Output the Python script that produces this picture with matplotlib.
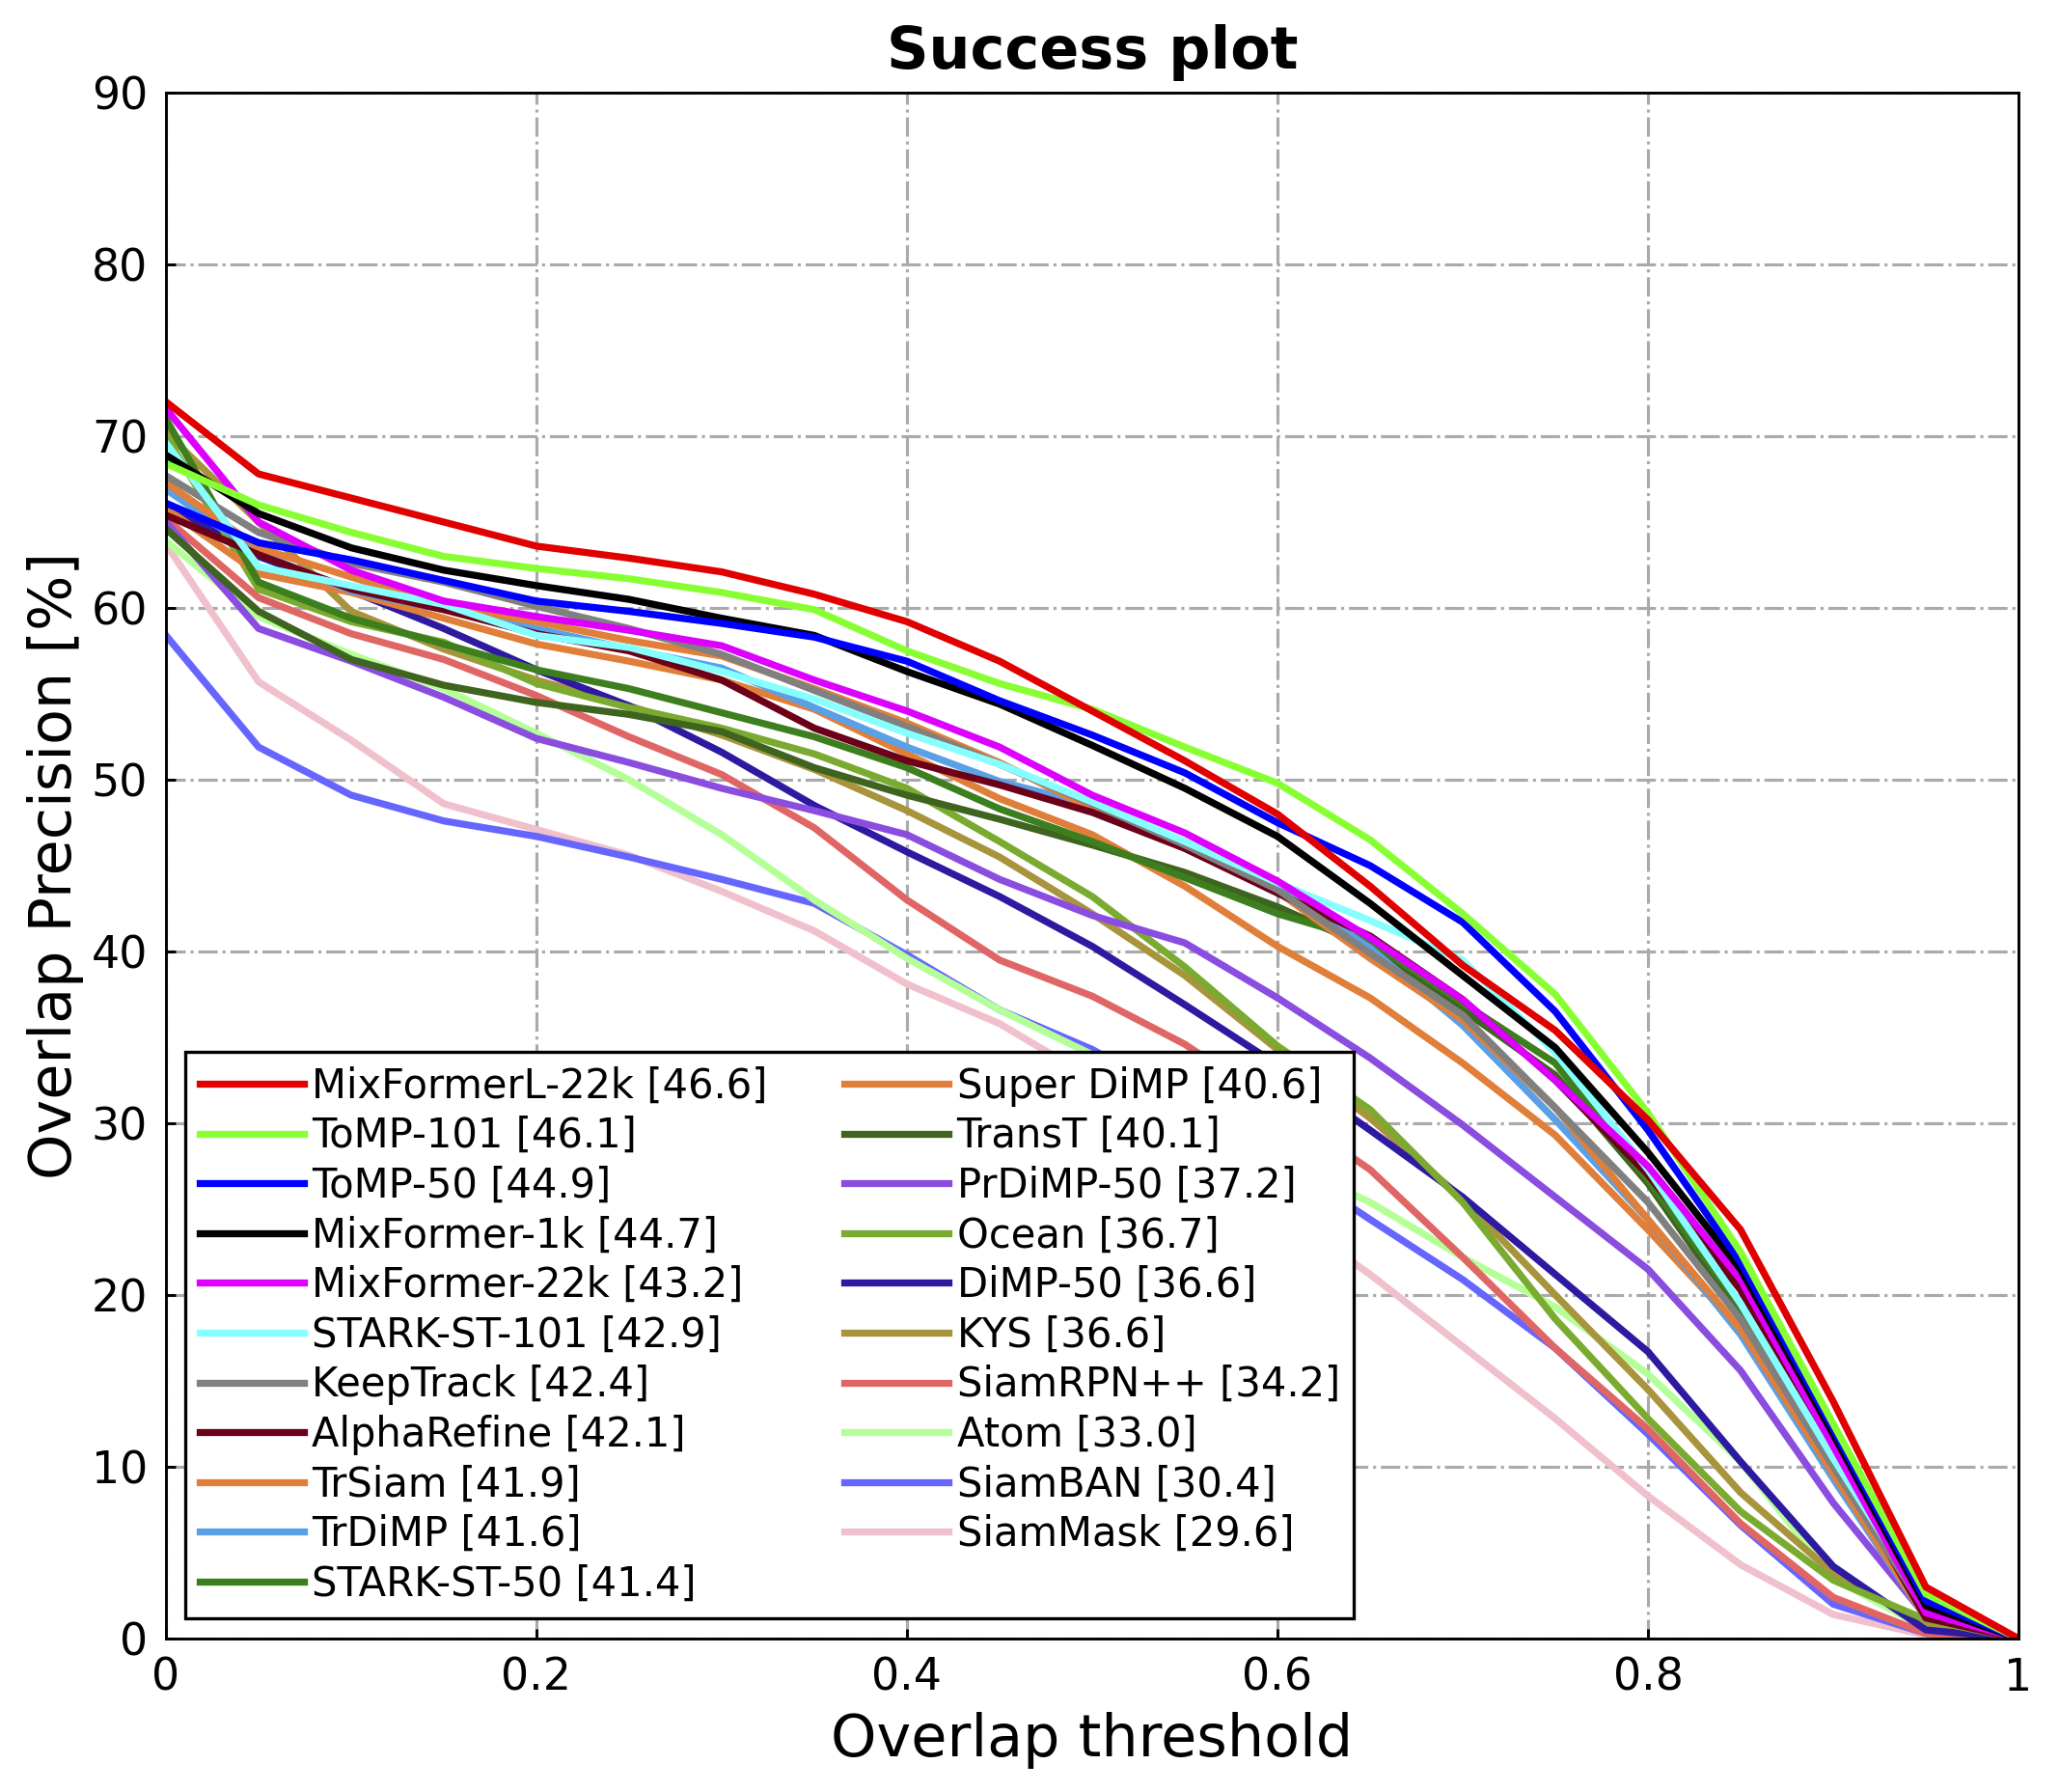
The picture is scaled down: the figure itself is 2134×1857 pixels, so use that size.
import numpy as np
import matplotlib
matplotlib.use("Agg")
import matplotlib.pyplot as plt

thresholds = [0.0, 0.05, 0.1, 0.15, 0.2, 0.25, 0.3, 0.35, 0.4, 0.45, 0.5,
              0.55, 0.6, 0.65, 0.7, 0.75, 0.8, 0.85, 0.9, 0.95, 1.0]

trackers = ["MixFormerL-22k", "ToMP-101", "ToMP-50", "MixFormer-1k", "MixFormer-22k",
            "STARK-ST-101", "KeepTrack", "AlphaRefine", "TrSiam", "TrDiMP",
            "STARK-ST-50", "Super DiMP", "TransT", "PrDiMP-50", "Ocean",
            "DiMP-50", "KYS", "SiamRPN++", "Atom", "SiamBAN", "SiamMask"]

auc = [46.6, 46.1, 44.9, 44.7, 43.2, 42.9, 42.4, 42.1, 41.9, 41.6, 41.4,
       40.6, 40.1, 37.2, 36.7, 36.6, 36.6, 34.2, 33.0, 30.4, 29.6]

colors = ["#e00000", "#88ff33", "#0000ff", "#000000", "#dd00ff",
          "#88ffff", "#808080", "#6b0018", "#e07f3a", "#5aa0e6",
          "#3d7f1e", "#e07f3a", "#3e6420", "#8a4de0", "#7aab30",
          "#2d1aa0", "#a8943c", "#e06666", "#b5ff99", "#6666ff", "#f0c0cc"]

mixformerl_22k = [72.0, 67.8, 66.4, 65.0, 63.6, 62.9, 62.1, 60.8, 59.2, 56.9, 54.0, 51.1, 48.0, 43.8, 39.2, 35.4, 30.2, 23.8, 13.8, 3.0, 0.0]
tomp_101 = [68.4, 66.0, 64.4, 63.0, 62.3, 61.7, 60.9, 59.9, 57.5, 55.6, 54.1, 51.9, 49.8, 46.5, 42.2, 37.5, 30.6, 22.5, 12.5, 2.6, 0.0]
tomp_50 = [66.1, 63.8, 62.8, 61.6, 60.4, 59.8, 59.1, 58.3, 56.9, 54.6, 52.6, 50.4, 47.5, 45.0, 41.7, 36.5, 29.6, 21.9, 12.2, 2.2, 0.0]
mixformer_1k = [68.9, 65.5, 63.5, 62.2, 61.3, 60.5, 59.4, 58.4, 56.3, 54.4, 52.0, 49.5, 46.7, 42.8, 38.6, 34.4, 28.3, 21.5, 11.9, 1.9, 0.0]
mixformer_22k = [71.6, 65.0, 62.2, 60.4, 59.5, 58.7, 57.8, 55.8, 54.0, 51.9, 49.1, 46.9, 44.1, 40.8, 37.2, 32.5, 27.5, 20.9, 11.2, 1.5, 0.0]
stark_st_101 = [69.6, 62.4, 61.3, 60.2, 58.4, 57.7, 56.3, 54.7, 52.7, 50.9, 48.7, 46.4, 44.0, 41.8, 39.5, 34.1, 27.3, 19.5, 10.5, 2.0, 0.0]
keeptrack = [67.7, 64.4, 62.6, 61.5, 60.1, 58.8, 57.3, 55.2, 53.1, 50.9, 48.6, 46.2, 43.6, 39.9, 36.3, 30.9, 25.4, 18.6, 10.0, 1.6, 0.0]
alpharefine = [65.4, 63.1, 61.1, 59.9, 58.5, 57.5, 55.8, 53.0, 51.1, 49.7, 48.1, 46.0, 43.4, 40.9, 37.2, 32.5, 27.0, 20.3, 10.6, 1.2, 0.0]
trsiam = [67.3, 63.5, 61.8, 60.1, 59.2, 58.1, 57.2, 55.3, 53.3, 51.0, 48.3, 46.0, 43.5, 39.6, 36.0, 30.9, 24.4, 18.0, 9.6, 1.2, 0.0]
trdimp = [66.9, 63.2, 61.0, 59.9, 58.8, 57.6, 56.5, 54.2, 51.9, 49.9, 48.5, 46.2, 43.8, 40.2, 35.7, 30.2, 24.4, 17.7, 9.3, 1.2, 0.0]
stark_st_50 = [71.0, 61.5, 59.4, 57.9, 56.4, 55.3, 53.9, 52.5, 50.7, 48.3, 46.4, 44.3, 42.2, 40.6, 37.0, 33.5, 26.7, 19.3, 10.3, 1.3, 0.0]
super_dimp = [65.8, 62.0, 60.9, 59.4, 57.9, 56.9, 55.8, 54.1, 51.5, 48.9, 46.8, 43.8, 40.3, 37.3, 33.5, 29.3, 23.8, 18.0, 9.6, 1.2, 0.0]
transt = [64.6, 59.8, 57.0, 55.5, 54.5, 53.8, 52.8, 50.7, 49.1, 47.7, 46.2, 44.6, 42.6, 40.2, 36.6, 32.8, 26.5, 18.8, 9.8, 1.2, 0.0]
prdimp_50 = [65.0, 58.8, 56.9, 54.8, 52.4, 51.0, 49.5, 48.2, 46.8, 44.2, 42.1, 40.5, 37.3, 33.8, 29.9, 25.7, 21.5, 15.6, 7.9, 1.3, 0.0]
ocean = [70.0, 61.1, 59.2, 58.0, 55.6, 54.2, 53.0, 51.5, 49.5, 46.4, 43.2, 39.1, 34.5, 30.8, 25.4, 18.6, 12.8, 7.4, 3.4, 1.1, 0.0]
dimp_50 = [66.0, 63.0, 61.0, 58.8, 56.4, 54.3, 51.6, 48.5, 45.8, 43.2, 40.3, 36.9, 33.4, 29.6, 25.7, 21.2, 16.7, 10.3, 4.2, 0.5, 0.0]
kys = [70.2, 65.0, 59.8, 57.6, 55.8, 54.3, 52.6, 50.6, 48.2, 45.5, 42.2, 38.6, 34.3, 30.3, 25.6, 20.0, 14.5, 8.5, 3.8, 0.8, 0.0]
siamrpnpp = [65.2, 60.6, 58.5, 57.0, 54.9, 52.5, 50.3, 47.2, 43.0, 39.5, 37.4, 34.6, 31.0, 27.3, 22.2, 16.9, 12.2, 6.7, 2.4, 0.3, 0.0]
atom = [63.9, 59.5, 57.3, 55.3, 52.7, 50.0, 46.8, 43.0, 39.6, 36.6, 34.0, 31.0, 28.0, 25.4, 22.2, 19.3, 15.4, 10.3, 3.5, 0.6, 0.0]
siamban = [58.4, 51.9, 49.1, 47.6, 46.7, 45.5, 44.2, 42.8, 39.8, 36.6, 34.3, 31.3, 28.0, 24.4, 20.9, 16.9, 11.9, 6.6, 2.0, 0.3, 0.0]
siammask = [63.7, 55.7, 52.3, 48.6, 47.1, 45.6, 43.5, 41.2, 38.1, 35.8, 32.6, 29.0, 25.0, 21.2, 17.0, 12.8, 8.3, 4.3, 1.4, 0.2, 0.0]

series = [mixformerl_22k, tomp_101, tomp_50, mixformer_1k, mixformer_22k,
          stark_st_101, keeptrack, alpharefine, trsiam, trdimp,
          stark_st_50, super_dimp, transt, prdimp_50, ocean,
          dimp_50, kys, siamrpnpp, atom, siamban, siammask]

xticks = [0, 0.2, 0.4, 0.6, 0.8, 1.0]
xticklabels = ["0", "0.2", "0.4", "0.6", "0.8", "1"]
yticks = [0, 10, 20, 30, 40, 50, 60, 70, 80, 90]

plt.rcParams['font.family'] = ['DejaVu Sans']

fig = plt.figure(figsize=(2134 / 300, 1857 / 300), dpi=300)
ax = fig.add_axes([172 / 2134, 1 - 1698 / 1857, 1920 / 2134, 1602 / 1857])

n = len(trackers)
handles = [None] * n
for i in range(n - 1, -1, -1):
    (ln,) = ax.plot(thresholds, series[i], color=colors[i], linewidth=1.75,
                    label=f"{trackers[i]} [{auc[i]:.1f}]", zorder=2 + (n - i) * 0.01)
    handles[i] = ln

ax.set_xlim(0, 1)
ax.set_ylim(0, 90)
ax.set_xticks(xticks)
ax.set_xticklabels(xticklabels)
ax.set_yticks(yticks)
ax.tick_params(direction='in', length=2.3, width=0.7, labelsize=11, pad=4.5,
               top=False, right=False)
for sp in ax.spines.values():
    sp.set_linewidth(0.7)

ax.grid(True, color='#aaaaaa', linestyle='-.', linewidth=0.75)
ax.set_axisbelow(True)

ax.set_title("Success plot", fontsize=14.5, fontweight='bold', pad=6)
ax.set_xlabel("Overlap threshold", fontsize=14.5, labelpad=3)
ax.set_ylabel("Overlap Precision [%]", fontsize=14.5, labelpad=2)

leg = ax.legend(handles=handles, ncol=2, loc='lower left',
                bbox_to_anchor=(0.0104, 0.0131), borderaxespad=0,
                fontsize=10, frameon=True, fancybox=False, framealpha=1,
                edgecolor='black', handlelength=2.6, handletextpad=0.2,
                labelspacing=0.23, borderpad=0.35, columnspacing=1.9)
leg.get_frame().set_linewidth(0.8)
leg.set_zorder(10)

fig.savefig("out.png", dpi=300)
